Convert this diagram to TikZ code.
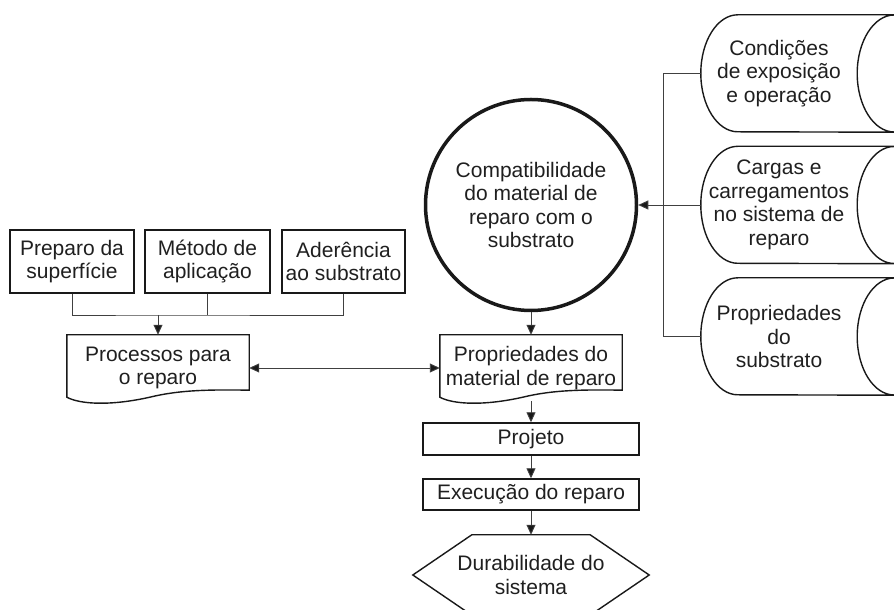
\documentclass[tikz,border=0pt]{standalone}
\usepackage{fontspec}
\setmainfont{Liberation Sans}
\usetikzlibrary{arrows.meta}

\newcommand{\flowfont}{\fontsize{21}{23.5}\selectfont}

\tikzset{
  flowbox/.style={draw=linecolor, line width=1.4pt, align=center, inner sep=0pt, text=textcolor, font=\flowfont},
  flowtext/.style={align=center, inner sep=0pt, text=textcolor, font=\flowfont},
  link/.style={draw=linkcolor, line width=0.9pt},
  arrowed/.style={-{Triangle[length=10pt,width=9pt,fill=linecolor]}},
  twoarrowed/.style={{Triangle[length=10pt,width=9pt,fill=linecolor]}-{Triangle[length=10pt,width=9pt,fill=linecolor]}},
}

% document box with a wavy bottom
\newcommand{\docshape}[1]{%
  \draw[line width=1.4pt, draw=linecolor]
    ([yshift=4pt]#1.south west) -- (#1.north west) -- (#1.north east)
    -- ([yshift=11pt]#1.south east)
    .. controls ([shift={(133pt,12pt)}]#1.south west) and ([shift={(108pt,10pt)}]#1.south west)
    .. ([shift={(83pt,4pt)}]#1.south west)
    .. controls ([shift={(43pt,-5pt)}]#1.south west) and ([shift={(13pt,-3pt)}]#1.south west)
    .. ([yshift=4pt]#1.south west) -- cycle;}

% lying drum, cut at the right edge
\newcommand{\drumshape}[1]{%
  \draw[line width=1.4pt, draw=linecolor]
    ([xshift=37pt]#1.north west) arc[start angle=90, end angle=270, x radius=37pt, y radius=58.5pt]
    -- ([xshift=37pt]#1.south east)
    ([xshift=37pt]#1.north west) -- ([xshift=37pt]#1.north east)
    ([xshift=37pt]#1.east) ellipse[x radius=37pt, y radius=58.5pt];}

\begin{document}
\begin{tikzpicture}[x=1pt,y=1pt]

% Define the colors
\colorlet{linecolor}{black!90}
\colorlet{linkcolor}{black!75}
\colorlet{textcolor}{black!88}

\useasboundingbox (0,0) rectangle (894,610);
\clip (0,0) rectangle (894,610);

% Draw the three process boxes
\node[flowbox, minimum width=124pt, minimum height=63pt] (prep) at (72,348.5) {Preparo da\\superfície};
\node[flowbox, minimum width=125pt, minimum height=63pt] (meto) at (207.5,348.5) {Método de\\aplicação};
\node[flowbox, minimum width=123pt, minimum height=63pt] (ader) at (343.5,348.5) {Aderência\\ao substrato};

% Draw the two documents
\node[flowtext, minimum width=182pt, minimum height=66pt] (proc) at (158,242) {Processos para\\o reparo};
\docshape{proc}
\node[flowtext, minimum width=182pt, minimum height=66pt] (prop) at (531,242) {Propriedades do\\material de reparo};
\docshape{prop}

% Draw the circle
\node[flowtext, circle, draw=linecolor, line width=3.5pt, minimum size=211pt] (circ) at (531,405)
  {Compatibilidade\\do material de\\reparo com o\\substrato};

% Draw the steps below
\node[flowbox, minimum width=216pt, minimum height=32pt] (proj) at (531,171) {Projeto};
\node[flowbox, minimum width=216pt, minimum height=31pt] (exec) at (531,115.5) {Execução do reparo};
\node[flowtext, minimum width=236pt, minimum height=80pt] (durab) at (531,35) {Durabilidade do\\sistema};
\draw[line width=1.4pt, draw=linecolor] (durab.west) -- ([xshift=59pt]durab.north west)
  -- ([xshift=-59pt]durab.north east) -- (durab.east)
  -- ([xshift=-59pt]durab.south east) -- ([xshift=59pt]durab.south west) -- cycle;

% Draw the drums on the right
\node[flowtext, minimum width=156pt, minimum height=117pt] (cond) at (779,536.5) {Condições\\de exposição\\e operação};
\drumshape{cond}
\node[flowtext, minimum width=156pt, minimum height=117pt] (carg) at (779,405) {Cargas e\\carregamentos\\no sistema de\\reparo};
\drumshape{carg}
\node[flowtext, minimum width=156pt, minimum height=117pt] (subs) at (779,273.5) {Propriedades\\do\\substrato};
\drumshape{subs}

% Draw the links
\coordinate (join) at (158,295);
\draw[link] (prep.south) |- (join) -| (ader.south);
\draw[link] (meto.south) -- (meto.south |- join);
\draw[link, arrowed] (join) -- (proc.north);
\draw[link, twoarrowed] (proc.east) -- (prop.west);

\draw[link] (cond.west) -- ++(-37pt,0) |- (subs.west);
\draw[link, arrowed] (carg.west) -- (circ.east);

\draw[link, arrowed] (circ.south) -- (prop.north);
\draw[link, arrowed] (prop.south) -- (proj.north);
\draw[link, arrowed] (proj.south) -- (exec.north);
\draw[link, arrowed] (exec.south) -- (durab.north);

\end{tikzpicture}
\end{document}
